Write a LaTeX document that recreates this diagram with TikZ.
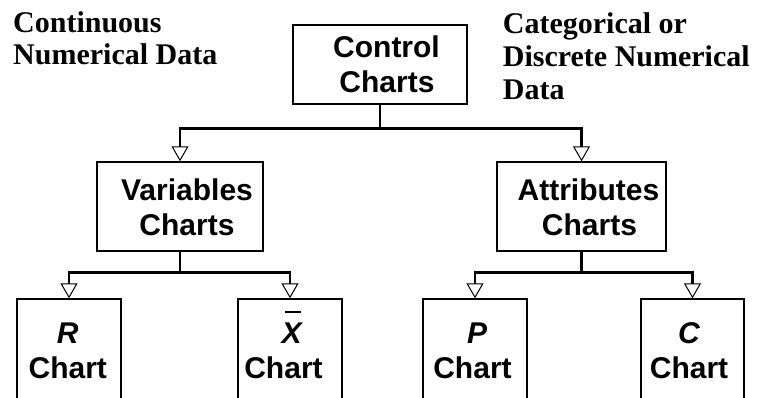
\documentclass[tikz,border=0pt]{standalone}
\usepackage{fontspec}
\setmainfont{Liberation Serif}
\newfontfamily\arialf{Liberation Sans}
\usetikzlibrary{arrows.meta}
\tikzset{
  box/.style={draw=black, line width=1.4pt, rectangle, inner sep=0pt, fill=white},
  conn/.style={draw=black, line width=2.6pt},
  arr/.style={-{Triangle[length=15pt,width=17pt,fill=white,line width=1pt]}},
  sanslbl/.style={anchor=base, inner sep=0pt, font=\arialf\bfseries\fontsize{30}{35}\selectfont},
  itlbl/.style={anchor=base, inner sep=0pt, font=\arialf\bfseries\itshape\fontsize{30}{35}\selectfont},
  seriflbl/.style={anchor=base west, inner sep=0pt, font=\bfseries\fontsize{30}{33}\selectfont}
}
\begin{document}
\begin{tikzpicture}[x=1pt, y=-1pt]
\useasboundingbox (0,0) rectangle (762,398);
\clip (0,0) rectangle (762,398);
% boxes
\node[box, minimum width=174pt, minimum height=79pt] (ctrl) at (380,64.5) {};
\node[box, minimum width=166pt, minimum height=89pt] (var) at (180,206.5) {};
\node[box, minimum width=169pt, minimum height=89pt] (att) at (581.5,206.5) {};
\node[box, minimum width=104pt, minimum height=121pt] (rch) at (69,359.5) {};
\node[box, minimum width=104pt, minimum height=121pt] (xch) at (290,359.5) {};
\node[box, minimum width=104pt, minimum height=121pt] (pch) at (475,359.5) {};
\node[box, minimum width=103pt, minimum height=121pt] (cch) at (692.5,359.5) {};
% connectors
\draw[conn] (ctrl.south) -- ++(0,24) coordinate (j1);
\draw[conn, arr] (j1) -| (var.north);
\draw[conn, arr] (j1) -| (att.north);
\draw[conn] (var.south) -- ++(0,21) coordinate (j2);
\draw[conn, arr] (j2) -| (rch.north);
\draw[conn, arr] (j2) -| (xch.north);
\draw[conn] (att.south) -- ++(0,21) coordinate (j3);
\draw[conn, arr] (j3) -| (pch.north);
\draw[conn, arr] (j3) -| (cch.north);
% box texts
\node[sanslbl] (ctrlA) at (386.5,57.3) {Control};
\node[sanslbl] (ctrlB) at (387,92.7) {Charts};
\node[sanslbl] (varA) at (187,200) {Variables};
\node[sanslbl] (varB) at (187,235) {Charts};
\node[sanslbl] (attA) at (588.5,200) {Attributes};
\node[sanslbl] (attB) at (589.5,235) {Charts};
\node[itlbl] (rA) at (67.7,343) {R};
\node[sanslbl] (rB) at (67.8,378) {Chart};
\node[itlbl] (xA) at (291.7,343) {\rlap{\hspace{3.5pt}\raisebox{30pt}{\rule{16pt}{2pt}}}X};
\node[sanslbl] (xB) at (283.5,378) {Chart};
\node[itlbl] (pA) at (477,343) {P};
\node[sanslbl] (pB) at (472.5,378) {Chart};
\node[itlbl] (cA) at (689,343) {C};
\node[sanslbl] (cB) at (689,378) {Chart};
% side labels
\node[seriflbl] (contA) at (13,32.3) {Continuous};
\node[seriflbl] (contB) at (13,65) {Numerical Data};
\node[seriflbl] (catA) at (502.7,33.3) {Categorical or};
\node[seriflbl] (catB) at (502.7,66.6) {Discrete Numerical};
\node[seriflbl] (catC) at (502.7,100) {Data};
\end{tikzpicture}
\end{document}
